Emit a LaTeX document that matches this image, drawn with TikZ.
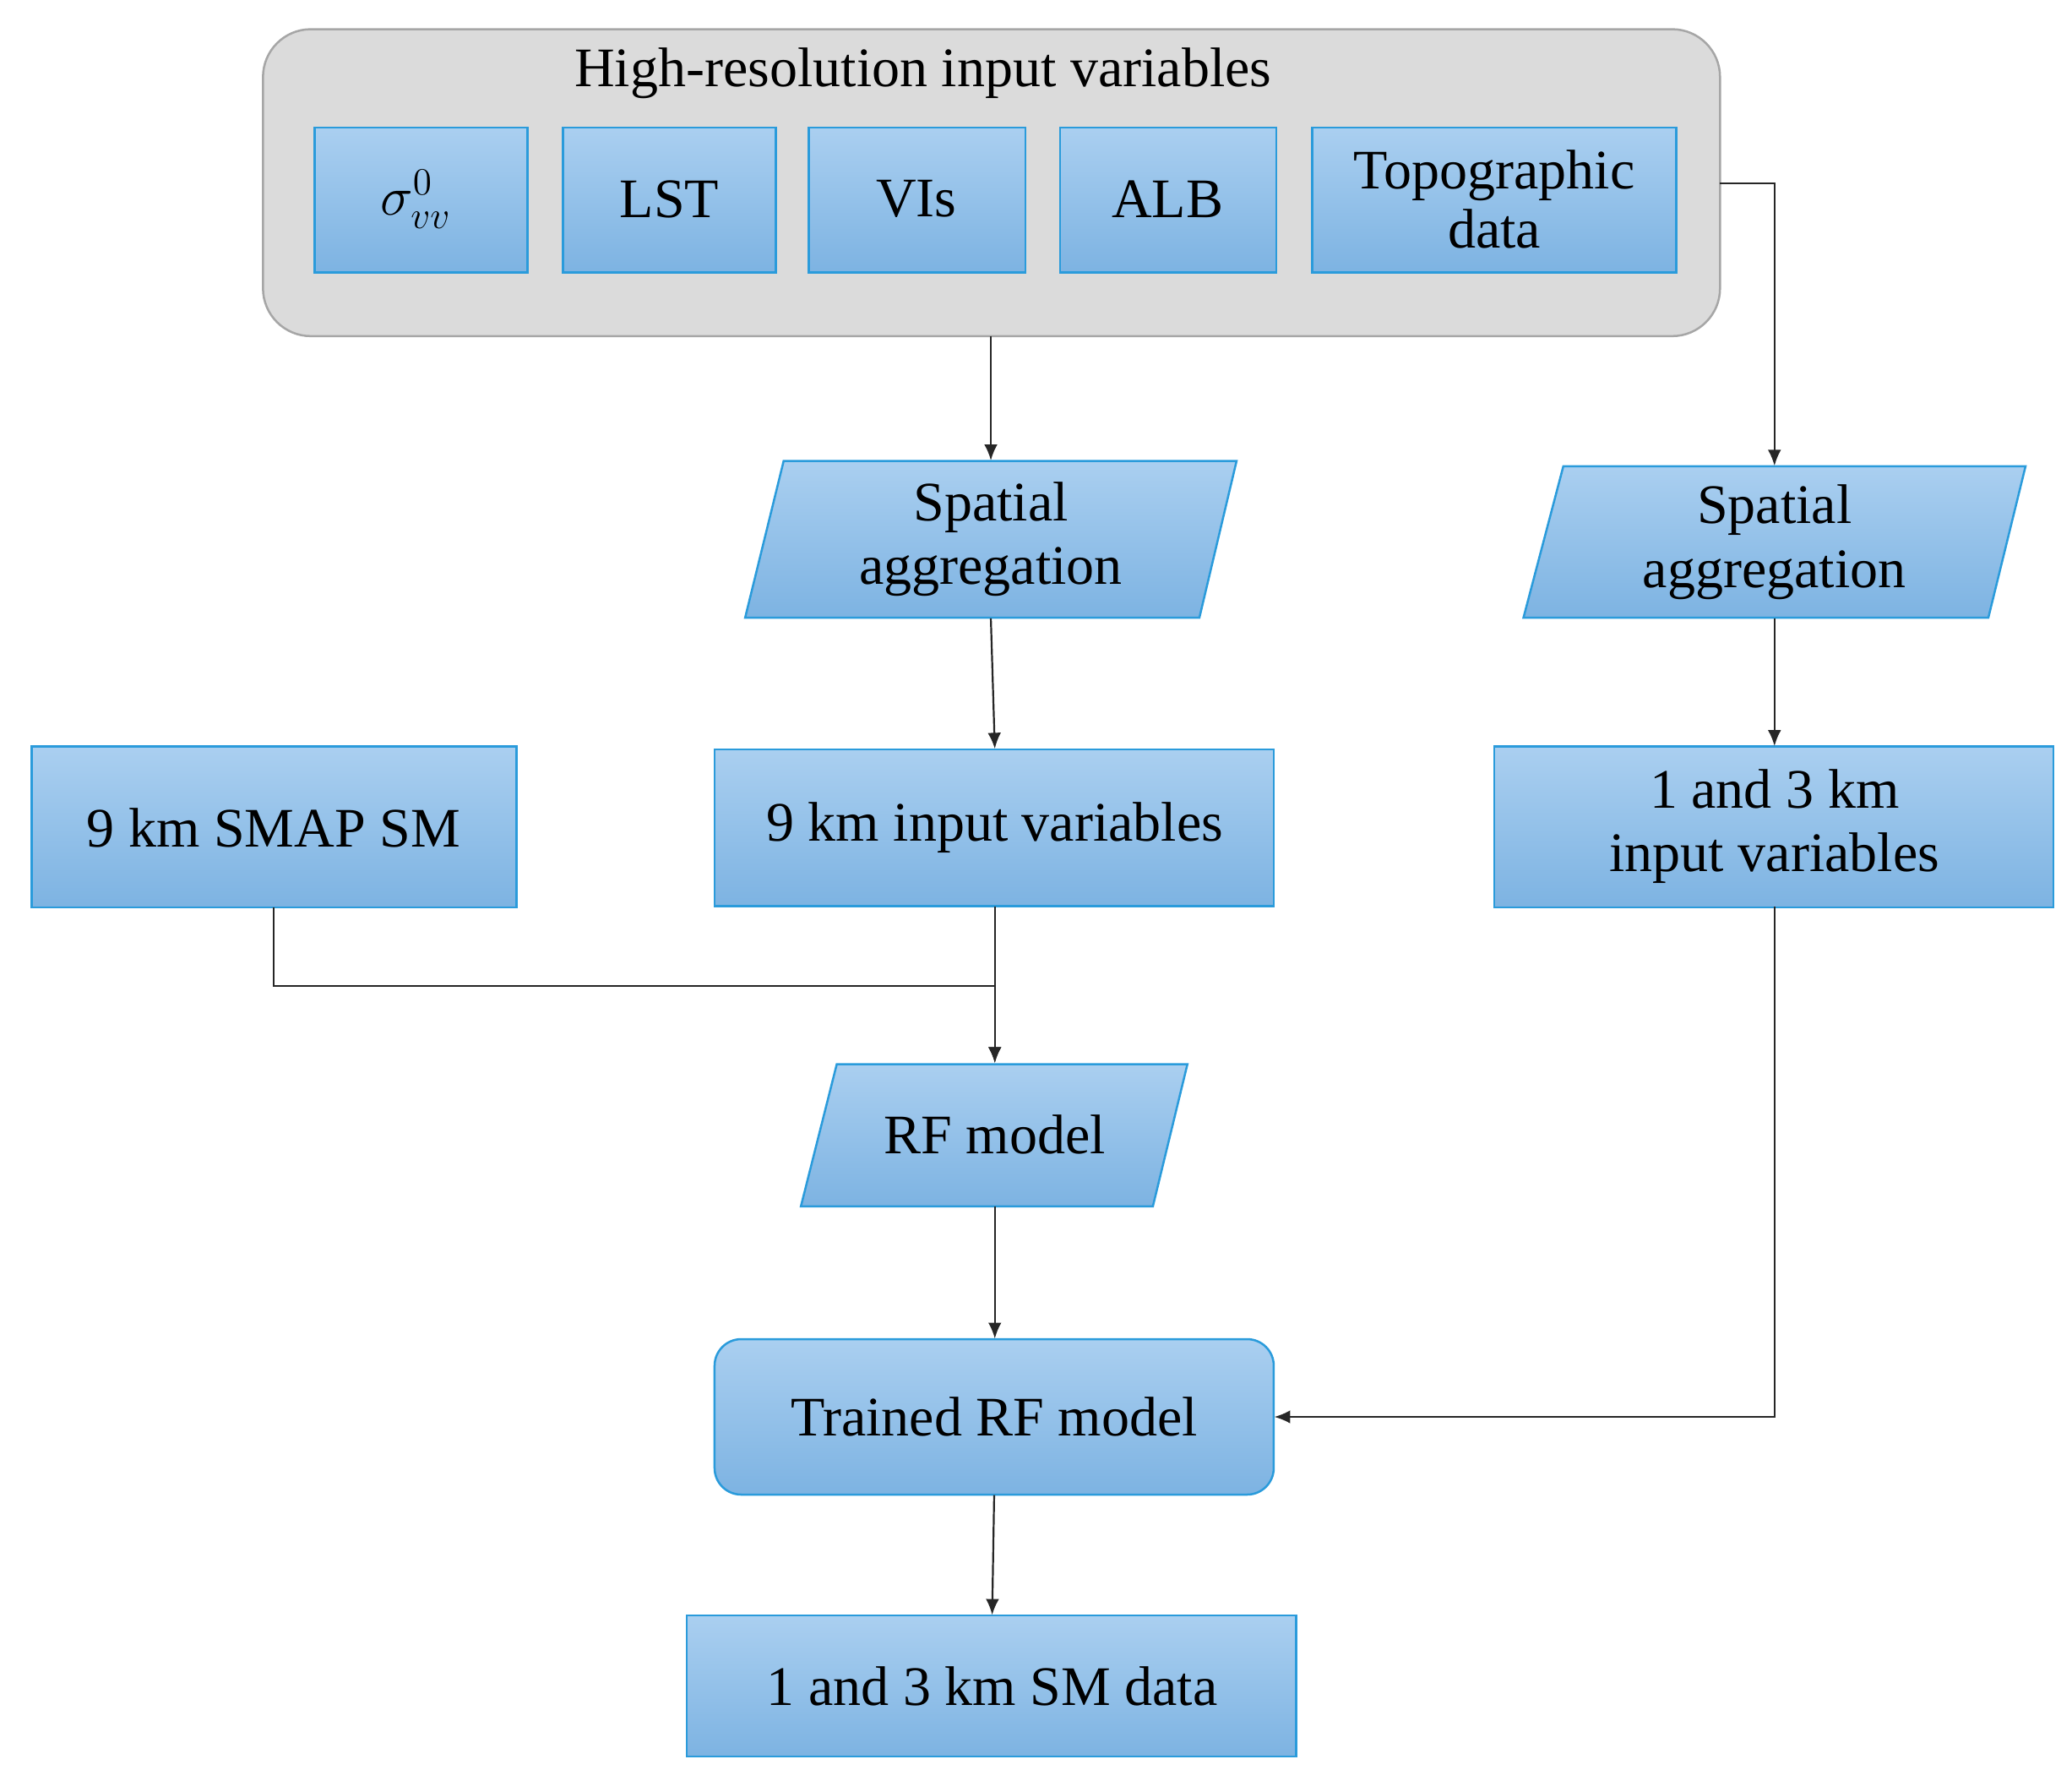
\documentclass[tikz,border=0pt]{standalone}
\usepackage{fontspec}
\setmainfont{Liberation Serif}
\usetikzlibrary{arrows.meta}
\begin{document}
\begin{tikzpicture}[x=0.5pt,y=-0.5pt,
  font=\fontsize{21}{25}\selectfont,
  bx/.style={draw=borderC,line width=0.8pt,top color=blueA,bottom color=blueB},
  lbl/.style={align=center,inner sep=0pt},
  arr/.style={-{Latex[length=6pt,width=5pt]},line width=0.7pt,black!85}]
\definecolor{blueA}{HTML}{AACFF0}
\definecolor{blueB}{HTML}{7DB3E2}
\definecolor{borderC}{HTML}{2A9BDB}
\useasboundingbox (0,0) rectangle (1560,1340);
% container
\draw[fill=black!14,draw=black!35,line width=0.8pt,rounded corners=18pt] (198,22) rectangle (1295,253);
\node[coordinate] (contB) at (746,253) {};
\node[lbl] (title) at (695,55) {High-resolution input variables};
% top boxes
\draw[bx] (237,96) rectangle (397,205); \node[lbl] (sig) at (313,150) {$\sigma^0_{vv}$};
\draw[bx] (424,96) rectangle (584,205); \node[lbl] (lst) at (504,150) {LST};
\draw[bx] (609,96) rectangle (772,205); \node[lbl] (vis) at (690,150) {VIs};
\draw[bx] (798,96) rectangle (961,205); \node[lbl] (alb) at (879,150) {ALB};
\draw[bx] (988,96) rectangle (1262,205); \node[lbl] (topo) at (1125,150) {Topographic\\[-3pt]data};
\node[coordinate] (contR) at (1295,138) {};
% parallelograms
\draw[bx] (590,347) -- (931,347) -- (903,465) -- (561,465) -- cycle;
\node[lbl,minimum width=150pt,minimum height=59pt] (sa1) at (746,406) {Spatial\\[-1pt]aggregation};
\draw[bx] (1177,351) -- (1525,351) -- (1497,465) -- (1147,465) -- cycle;
\node[lbl,minimum width=150pt,minimum height=57pt] (sa2) at (1336,408) {Spatial\\[-1pt]aggregation};
% mid boxes
\draw[bx] (24,562) rectangle (389,683); \node[lbl] (smap) at (206,623) {9 km SMAP SM};
\node[coordinate] (smapB) at (206,683) {};
\draw[bx] (538,564) rectangle (959,682); \node[lbl,minimum width=210pt,minimum height=59pt] (in9) at (749,623) {9 km input variables};
\draw[bx] (1125,562) rectangle (1546,683); \node[lbl,minimum width=210pt,minimum height=60pt] (in13) at (1336,622) {1 and 3 km\\[-1pt]input variables};
% RF model
\draw[bx] (630,801) -- (894,801) -- (868,908) -- (603,908) -- cycle;
\node[lbl,minimum height=53.5pt] (rf) at (749,854) {RF model};
% trained
\draw[bx,rounded corners=10pt] (538,1008) rectangle (959,1125);
\node[lbl,minimum width=210.5pt,minimum height=58.5pt] (tr) at (748.5,1066.5) {Trained RF model};
% output
\draw[bx] (517,1216) rectangle (976,1322);
\node[lbl,minimum height=53pt] (out) at (747,1269) {1 and 3 km SM data};
% connectors
\draw[arr] (contB) -- (sa1.north);
\draw[arr] (contR) -| (sa2.north);
\draw[arr] (sa1.south) -- (in9.north);
\draw[arr] (sa2.south) -- (in13.north);
\draw[arr] (smapB) |- (749,742) -- (rf.north);
\draw[arr] (in9.south) -- (rf.north);
\draw[arr] (rf.south) -- (tr.north -| rf.south);
\draw[arr] (in13.south) |- (tr.east);
\draw[arr] (tr.south) -- (out.north);
\end{tikzpicture}
\end{document}
